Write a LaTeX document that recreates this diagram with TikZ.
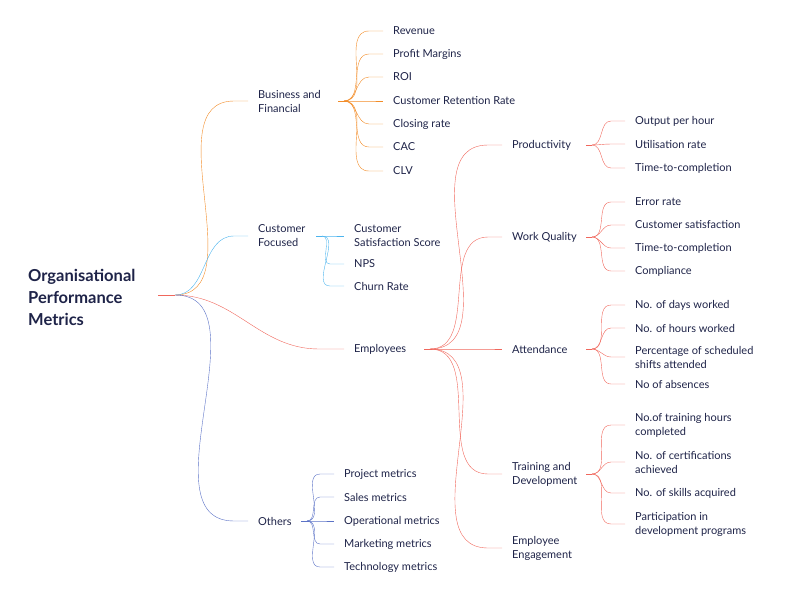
\documentclass[tikz,border=0pt]{standalone}
\usepackage{fontspec}
\setmainfont{Lato}
\usepackage{xcolor}
\usepackage{tikz}
\definecolor{ink}{HTML}{1E2348}
\definecolor{orangeline}{HTML}{F28C28}
\definecolor{blueline}{HTML}{4CB4EE}
\definecolor{redline}{HTML}{F0675C}
\definecolor{navyline}{HTML}{5B72C6}
\tikzset{
    tnode/.style = {align=left, inner sep=0pt, anchor=west, text=ink, font=\fontsize{11}{14}\selectfont},
    root/.style = {tnode, font=\fontsize{16.5}{22}\bfseries\selectfont},
    bf/.style = {orangeline, thin},
    cf/.style = {blueline, thin},
    emp/.style = {redline, thin},
    oth/.style = {navyline, thin}
}
% curve from a hub to the left of a node, ending in a short straight piece
\newcommand\link[3]{\draw[#1] (#2) to[out=0,in=180] ([xshift=-24pt]#3.west) -- ([xshift=-10pt]#3.west);}
\newcommand\hub[3]{\coordinate (#2) at #3; \draw[#1] ([xshift=-6pt]#2) -- (#2);}

\begin{document}
\begin{tikzpicture}[x=1pt,y=-1pt]
    \useasboundingbox (0,0) rectangle (800,600);

    % root
    \node [root] (org) at (28,297) {Organisational\\Performance\\Metrics};
    \coordinate (org-hub) at (175,295);
    \draw[emp] (158,295) -- (org-hub);

    % first level
    \node [tnode] (bf) at (258,101) {Business and\\Financial};
    \node [tnode] (cf) at (258,236) {Customer\\Focused};
    \node [tnode] (emp) at (354,349) {Employees};
    \node [tnode] (oth) at (258,521) {Others};
    \link{bf}{org-hub}{bf}
    \link{cf}{org-hub}{cf}
    \draw[emp] (org-hub) to[out=0,in=180] ([xshift=-35pt]emp.west) -- ([xshift=-10pt]emp.west);
    \link{oth}{org-hub}{oth}

    % business and financial
    \hub{bf}{bf-hub}{(344,101)}
    \foreach \name/\y/\txt in {rev/31/Revenue, pm/54/Profit Margins, roi/77/ROI,
        crr/101/Customer Retention Rate, clr/124/Closing rate, cac/147/CAC, clv/171/CLV}{
        \node [tnode] (\name) at (393,\y) {\txt};
        \link{bf}{bf-hub}{\name}
    }

    % customer focused
    \hub{cf}{cf-hub}{(322,236)}
    \node [tnode] (css) at (354,236) {Customer\\Satisfaction Score};
    \node [tnode] (nps) at (354,264) {NPS};
    \node [tnode] (churn) at (354,286) {Churn Rate};
    \foreach \name in {css,nps,churn}{\link{cf}{cf-hub}{\name}}

    % employees
    \hub{emp}{emp-hub}{(430,349)}
    \node [tnode] (prod) at (512,145) {Productivity};
    \node [tnode] (wq) at (512,237) {Work Quality};
    \node [tnode] (att) at (512,349) {Attendance};
    \node [tnode] (trn) at (512,474) {Training and\\Development};
    \node [tnode] (eng) at (512,548) {Employee\\Engagement};
    \foreach \name in {prod,wq,att,trn,eng}{\link{emp}{emp-hub}{\name}}

    \hub{emp}{prod-hub}{(592,145)}
    \foreach \name/\y/\txt in {oph/121/Output per hour, util/144/Utilisation rate, ttc/168/Time-to-completion}{
        \node [tnode] (\name) at (635,\y) {\txt};
        \link{emp}{prod-hub}{\name}
    }

    \hub{emp}{wq-hub}{(592,237)}
    \foreach \name/\y/\txt in {err/202/Error rate, csat/225/Customer satisfaction,
        ttc2/248/Time-to-completion, comp/271/Compliance}{
        \node [tnode] (\name) at (635,\y) {\txt};
        \link{emp}{wq-hub}{\name}
    }

    \hub{emp}{att-hub}{(592,349)}
    \node [tnode] (days) at (635,305) {No. of days worked};
    \node [tnode] (hours) at (635,328) {No. of hours worked};
    \node [tnode] (shifts) at (635,357) {Percentage of scheduled\\shifts attended};
    \node [tnode] (abs) at (635,384) {No of absences};
    \foreach \name in {days,hours,shifts,abs}{\link{emp}{att-hub}{\name}}

    \hub{emp}{trn-hub}{(592,474)}
    \node [tnode] (thr) at (635,425) {No.of training hours\\completed};
    \node [tnode] (cert) at (635,462) {No. of certifications\\achieved};
    \node [tnode] (skl) at (635,493) {No. of skills acquired};
    \node [tnode] (dev) at (635,524) {Participation in\\development programs};
    \foreach \name in {thr,cert,skl,dev}{\link{emp}{trn-hub}{\name}}

    % others
    \hub{oth}{oth-hub}{(307,521)}
    \foreach \name/\y/\txt in {proj/474/Project metrics, sales/497/Sales metrics,
        ops/521/Operational metrics, mkt/544/Marketing metrics, tech/567/Technology metrics}{
        \node [tnode] (\name) at (344,\y) {\txt};
        \link{oth}{oth-hub}{\name}
    }
\end{tikzpicture}
\end{document}
